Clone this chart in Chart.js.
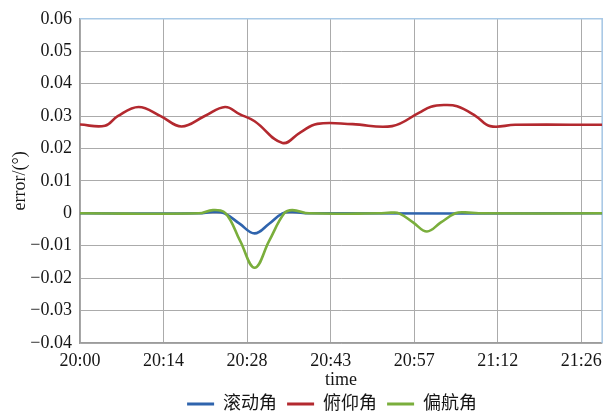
<!DOCTYPE html>
<html>
<head>
<meta charset="utf-8">
<script src="https://cdn.jsdelivr.net/npm/chart.js@4.4.1/dist/chart.umd.min.js"></script>
<style>
  html, body { margin: 0; padding: 0; background: #fff; }
  #wrap { width: 609px; height: 411px; }
</style>
</head>
<body>
<div id="wrap"><canvas id="c" width="609" height="411"></canvas></div>
<script>
// x axis: minutes after 20:00 (major step of 0.01 day = 14.4 min)
const xTickMinutes = [0, 14.4, 28.8, 43.2, 57.6, 72, 86.4];
const xTickLabels = ['20:00', '20:14', '20:28', '20:43', '20:57', '21:12', '21:26'];
const yTickValues = [-0.04, -0.03, -0.02, -0.01, 0, 0.01, 0.02, 0.03, 0.04, 0.05, 0.06];
const yTickLabels = ['\u22120.04', '\u22120.03', '\u22120.02', '\u22120.01', '0', '0.01', '0.02', '0.03', '0.04', '0.05', '0.06'];
const seriesNames = ['滚动角', '俯仰角', '偏航角'];

// roll error
const rollMinutes = [0, 20.5, 22.9, 24.9, 27.5, 30.1, 32.6, 34.9, 36.6, 39.5, 90];
const rollValues  = [0, 0, 0.0004, 0, -0.0032, -0.0062, -0.0032, 0, 0.0004, 0, 0];

// pitch error
const pitchMinutes = [0, 4.3, 6.5, 10.1, 13.9, 17.5, 21.5, 25, 27.5, 30.1, 34.9, 38, 40.9, 47, 53.8, 58.4, 60.5, 62.7, 65, 68.2, 70.7, 75, 90];
const pitchValues  = [0.0274, 0.0270, 0.0300, 0.0328, 0.0300, 0.0268, 0.0300, 0.0328, 0.0306, 0.0284, 0.0217, 0.0250, 0.0276, 0.0275, 0.0269, 0.0310, 0.0329, 0.0334, 0.0330, 0.0300, 0.0269, 0.0273, 0.0273];

// yaw error
const yawMinutes = [0, 20.5, 22.9, 25.1, 27.6, 30.1, 32.6, 35.2, 36.6, 39.5, 51.5, 53.6, 55, 57.4, 59.8, 62.2, 64.7, 66.4, 68.7, 90];
const yawValues  = [0, 0, 0.001, 0, -0.0085, -0.0168, -0.0085, 0, 0.001, 0, 0, 0.0002, 0, -0.0028, -0.0056, -0.0028, 0, 0.0003, 0, 0];

const colors = ['#2f64ad', '#b3292f', '#7aae3c'];

const toPoints = (xs, ys) => xs.map((x, i) => ({ x, y: ys[i] }));

const serif = "'Liberation Serif', 'Times New Roman', serif";
const legendFont = "'Liberation Serif', 'Noto Sans CJK SC', serif";
const textColor = '#151515';

const mkSet = (i, xs, ys, order) => ({
  label: seriesNames[i],
  data: toPoints(xs, ys),
  borderColor: colors[i],
  backgroundColor: colors[i],
  borderWidth: 2.6,
  pointRadius: 0,
  fill: false,
  tension: 0.4,
  order
});

// light blue frame on the top and right sides of the plot area
const plotFrame = {
  id: 'plotFrame',
  beforeDatasetsDraw(chart) {
    const { ctx, chartArea: a } = chart;
    ctx.save();
    ctx.strokeStyle = '#a9c9e6';
    ctx.lineWidth = 1.6;
    ctx.beginPath();
    ctx.moveTo(a.left, a.top);
    ctx.lineTo(a.right, a.top);
    ctx.lineTo(a.right, a.bottom);
    ctx.stroke();
    ctx.restore();
  }
};

// nudge the legend row a little to the left
const legendShift = {
  id: 'legendShift',
  afterLayout(chart) {
    const l = chart.legend;
    l.left -= 9;
    l.right -= 9;
  }
};

new Chart(document.getElementById('c'), {
  type: 'line',
  data: {
    datasets: [
      mkSet(0, rollMinutes, rollValues, 2),
      mkSet(1, pitchMinutes, pitchValues, 1),
      mkSet(2, yawMinutes, yawValues, 0)
    ]
  },
  plugins: [plotFrame, legendShift],
  options: {
    responsive: false,
    animation: false,
    layout: { padding: { left: 0, right: 5, top: 14, bottom: -12 } },
    plugins: {
      tooltip: { enabled: false },
      legend: {
        position: 'bottom',
        fullSize: false,
        labels: {
          boxWidth: 27,
          boxHeight: 3,
          padding: 10,
          color: textColor,
          font: { family: legendFont, size: 18 },
          generateLabels(chart) {
            const items = Chart.defaults.plugins.legend.labels.generateLabels(chart);
            items.forEach(it => { it.lineWidth = 0; it.fillStyle = it.strokeStyle; });
            return items.sort((a, b) => a.datasetIndex - b.datasetIndex);
          }
        }
      }
    },
    scales: {
      x: {
        type: 'linear',
        min: 0,
        max: 90,
        afterBuildTicks(scale) { scale.ticks = xTickMinutes.map(v => ({ value: v })); },
        afterFit(scale) { scale.height = 42; },
        ticks: {
          color: textColor,
          padding: 7,
          maxRotation: 0,
          autoSkip: false,
          font: { family: serif, size: 18 },
          callback: (v, i) => xTickLabels[i]
        },
        grid: { color: '#ababab', lineWidth: 1, drawTicks: false },
        border: { color: '#9c9c9c', width: 1.2 },
        title: {
          display: true,
          text: 'time',
          color: textColor,
          font: { family: serif, size: 18 },
          padding: { top: 0, bottom: -6 }
        }
      },
      y: {
        min: -0.04,
        max: 0.06,
        afterBuildTicks(scale) { scale.ticks = yTickValues.map(v => ({ value: v })); },
        afterFit(scale) { scale.width = 80; },
        ticks: {
          color: textColor,
          padding: 8,
          font: { family: serif, size: 18 },
          callback: (v, i) => yTickLabels[i]
        },
        grid: { color: '#ababab', lineWidth: 1, drawTicks: false },
        border: { color: '#9c9c9c', width: 1.2 },
        title: {
          display: true,
          text: 'error/(°)',
          color: textColor,
          font: { family: serif, size: 18 },
          padding: { top: 9, bottom: 0 }
        }
      }
    }
  }
});
</script>
</body>
</html>
